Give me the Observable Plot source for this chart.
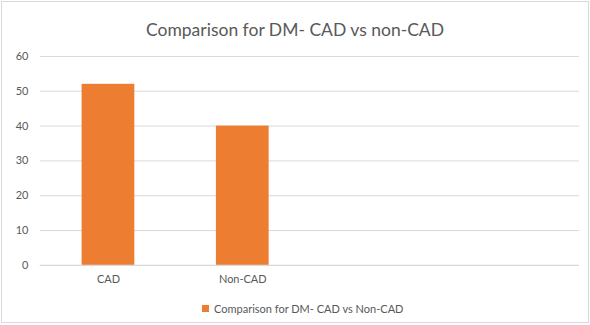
<!DOCTYPE html>
<html>
<head>
<meta charset="utf-8">
<script src="https://cdn.jsdelivr.net/npm/d3@7"></script>
<script src="https://cdn.jsdelivr.net/npm/@observablehq/plot@0.6"></script>
<style>
  body { margin: 0; background: #fff; }
  #chart {
    position: relative; width: 588px; height: 322px; margin: 1px 0 0 1px;
    border: 1px solid #d9d9d9; box-sizing: border-box; overflow: hidden;
    font-family: Lato, "Open Sans", sans-serif; color: #595959;
  }
  #title {
    position: absolute; left: 0; right: 0; top: 17px; text-align: center;
    font-size: 17.5px; font-weight: 400; color: #595959;
  }
  #plot { position: absolute; left: -1px; top: 43px; }
  #legend {
    position: absolute; left: 200px; top: 300px; font-size: 11px; color: #595959;
    display: flex; align-items: center;
  }
  #legend .sw { width: 7px; height: 7px; background: #ED7D31; margin-right: 5px; }
</style>
</head>
<body>
<div id="chart">
  <div id="title">Comparison for DM- CAD vs non-CAD</div>
  <div id="plot"></div>
  <div id="legend"><span class="sw"></span><span>Comparison for DM- CAD vs Non-CAD</span></div>
</div>
<script>
// Groups and their counts
const categories = ["CAD", "Non-CAD"];
const values = [52, 40];
// Axis slots: two filled groups followed by two empty slots
const slots = ["CAD", "Non-CAD", "_3", "_4"];
const yTicks = [0, 10, 20, 30, 40, 50, 60];
const barColor = "#ED7D31";

const data = categories.map((c, i) => ({category: c, value: values[i]}));

const chart = Plot.plot({
  width: 590,
  height: 251,
  marginLeft: 39,
  marginRight: 9,
  marginTop: 11,
  marginBottom: 30,
  style: {fontFamily: "Lato, 'Open Sans', sans-serif", fontSize: "11px", color: "#595959", background: "transparent"},
  x: {domain: slots, paddingInner: 0.61, paddingOuter: 0.305, label: null, tickSize: 0, tickPadding: 10,
      tickFormat: d => categories.includes(d) ? d : ""},
  y: {domain: [0, 60], ticks: yTicks, label: null, tickSize: 0, tickPadding: 12},
  marks: [
    Plot.gridY(yTicks, {stroke: "#d9d9d9", strokeOpacity: 1}),
    Plot.barY(data, {x: "category", y: "value", fill: barColor}),
    Plot.ruleY([0], {stroke: "#d9d9d9"})
  ]
});
document.getElementById("plot").appendChild(chart);
</script>
</body>
</html>
